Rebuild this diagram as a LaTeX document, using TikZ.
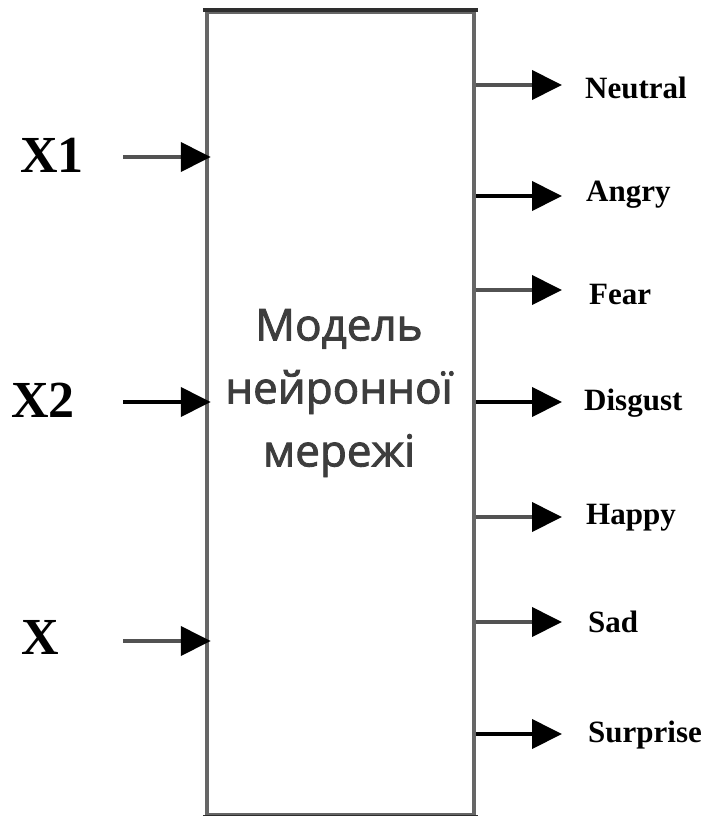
\documentclass[tikz,border=0pt]{standalone}
\usepackage{fontspec}
\setmainfont{Liberation Serif}
\newfontfamily\labelsans[FakeBold=2]{Open Sans}
\usetikzlibrary{arrows.meta}
\begin{document}
\begin{tikzpicture}[x=1pt,y=-1pt,
  sidecol/.style={draw=black!60},
  arr/.style={line width=4pt,-{Triangle[length=30pt,width=29pt,color=black]}},
  arrgray/.style={arr,draw=black!68},
  arrdark/.style={arr,draw=black},
  inlabel/.style={font=\fontsize{52}{52}\selectfont\bfseries,inner sep=0pt},
  outlabel/.style={font=\fontsize{31}{31}\selectfont\bfseries,anchor=west,inner sep=0pt},
  netbox/.style={line width=4.5pt,sidecol,minimum width=267pt,minimum height=803pt,inner sep=0pt}
]
\useasboundingbox (0,0) rectangle (708,816);

% network block
\node[netbox] (net) at (340.5,413.5) {};
\draw[line width=4pt,draw=black!82] ([xshift=-2pt]net.north west) -- ([xshift=2pt]net.north east);
\draw[line width=4pt,draw=black!82] ([xshift=-2pt]net.south west) -- ([xshift=2pt]net.south east);
\node[font=\labelsans\fontsize{44}{63}\selectfont,text=black!76,align=center] (title) at (339,393)
  {Модель\\нейронної\\мережі};

% inputs
\node[inlabel] (x1) at (52,155) {X1};
\node[inlabel] (x2) at (43,400) {X2};
\node[inlabel] (x3) at (40,637) {X};
\coordinate (i1) at (123,157);
\coordinate (i2) at (123,402);
\coordinate (i3) at (123,641);
\draw[arrgray] (i1) -- ([xshift=6pt]i1 -| net.west);
\draw[arrdark] (i2) -- ([xshift=6pt]i2 -| net.west);
\draw[arrgray] (i3) -- ([xshift=6pt]i3 -| net.west);

% outputs
\coordinate (o1) at (562,85);
\coordinate (o2) at (562,196);
\coordinate (o3) at (562,290);
\coordinate (o4) at (562,402);
\coordinate (o5) at (562,517);
\coordinate (o6) at (562,622);
\coordinate (o7) at (562,734);
\node[outlabel] (l1) at (585,88) {Neutral};
\node[outlabel] (l2) at (586,195) {Angry};
\node[outlabel] (l3) at (589,294) {Fear};
\node[outlabel] (l4) at (584,403) {Disgust};
\node[outlabel] (l5) at (586,518) {Happy};
\node[outlabel] (l6) at (588,622) {Sad};
\node[outlabel] (l7) at (588,735) {Surprise};
\draw[arrgray] (o1 -| net.east) -- (o1);
\draw[arrdark] (o2 -| net.east) -- (o2);
\draw[arrgray] (o3 -| net.east) -- (o3);
\draw[arrdark] (o4 -| net.east) -- (o4);
\draw[arrgray] (o5 -| net.east) -- (o5);
\draw[arrgray] (o6 -| net.east) -- (o6);
\draw[arrdark] (o7 -| net.east) -- (o7);
\end{tikzpicture}
\end{document}
